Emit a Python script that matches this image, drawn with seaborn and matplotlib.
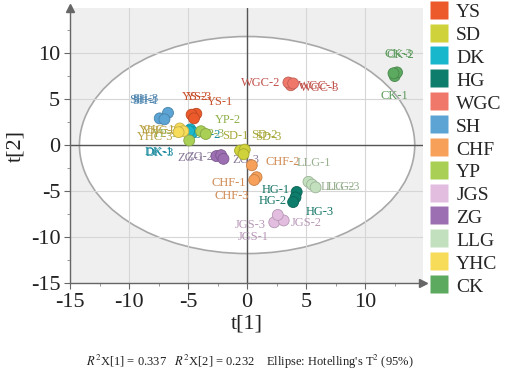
import numpy as np
import pandas as pd
import seaborn as sns
import matplotlib.pyplot as plt
from matplotlib.patches import Ellipse
from matplotlib.lines import Line2D
from matplotlib.ticker import MultipleLocator

# ==============================
# Data (PCA scores)
# ==============================
groups = ["YS", "SD", "DK", "HG", "WGC", "SH", "CHF", "YP", "JGS", "ZG", "LLG", "YHC", "CK"]
group_colors = ["#ec5a2c", "#cfd23b", "#19b7cc", "#0e7d6c", "#f0786b", "#5ba4d4", "#f6a05a",
                "#a9cf55", "#e2bde0", "#9c6fb3", "#c3e0be", "#f7dc5a", "#5ca960"]
label_colors = ["#c8502a", "#a8a83a", "#1a8a9e", "#137565", "#c0504a", "#4f86b0", "#d08850",
                "#8fb04a", "#b898b8", "#8a7a9a", "#98b090", "#b8a040", "#5a9a5a"]

t1_YS = [-4.3, -4.7, -4.5]
t2_YS = [3.4, 3.3, 2.9]
t1_SD = [-0.6, -0.2, -0.3]
t2_SD = [-0.6, -0.5, -1.0]
t1_DK = [-4.8, -4.6, -4.9]
t2_DK = [1.7, 1.4, 1.5]
t1_HG = [4.2, 4.1, 3.9]
t2_HG = [-5.1, -5.7, -6.2]
t1_WGC = [3.7, 3.5, 3.9]
t2_WGC = [6.5, 6.8, 6.7]
t1_SH = [-7.4, -6.7, -7.0]
t2_SH = [2.9, 3.5, 2.8]
t1_CHF = [0.8, 0.4, 0.6]
t2_CHF = [-3.5, -2.2, -3.8]
t1_YP = [-4.9, -3.9, -3.5]
t2_YP = [0.5, 1.5, 1.2]
t1_JGS = [2.3, 3.1, 2.6]
t2_JGS = [-8.4, -8.2, -7.6]
t1_ZG = [-2.6, -2.2, -2.0]
t2_ZG = [-1.2, -1.1, -1.5]
t1_LLG = [5.2, 5.5, 5.8]
t2_LLG = [-4.0, -4.3, -4.6]
t1_YHC = [-5.7, -5.4, -5.8]
t2_YHC = [1.8, 1.5, 1.4]
t1_CK = [12.5, 12.7, 12.4]
t2_CK = [7.5, 7.9, 7.8]

scores = {
    "YS": (t1_YS, t2_YS), "SD": (t1_SD, t2_SD), "DK": (t1_DK, t2_DK),
    "HG": (t1_HG, t2_HG), "WGC": (t1_WGC, t2_WGC), "SH": (t1_SH, t2_SH),
    "CHF": (t1_CHF, t2_CHF), "YP": (t1_YP, t2_YP), "JGS": (t1_JGS, t2_JGS),
    "ZG": (t1_ZG, t2_ZG), "LLG": (t1_LLG, t2_LLG), "YHC": (t1_YHC, t2_YHC),
    "CK": (t1_CK, t2_CK),
}

r2x = [0.337, 0.232]
ellipse_axes = [14.2, 11.8]   # Hotelling's T2 (95%) semi-axes

# label placement (pixel offsets from the point)
label_offsets = {
    "YS-1": (24, 12), "YS-2": (3, 18), "YS-3": (5, 21),
    "SD-1": (-5, 15), "SD-2": (20, 15), "SD-3": (25, 17),
    "DK-1": (-32, -23), "DK-2": (14, -3), "DK-3": (-29, -22),
    "HG-1": (-21, 2), "HG-2": (-23, -4), "HG-3": (27, -10),
    "WGC-1": (27, -1), "WGC-2": (-28, -1), "WGC-3": (27, -5),
    "SH-1": (-14, 17), "SH-2": (-26, 13), "SH-3": (-19, 20),
    "CHF-1": (-28, -6), "CHF-2": (31, 3), "CHF-3": (-22, -16),
    "YP-1": (-24, 6), "YP-2": (27, 11), "YP-3": (6, 0),
    "JGS-1": (-21, -15), "JGS-2": (23, -3), "JGS-3": (-28, -10),
    "ZG-1": (-26, -2), "ZG-2": (-21, -2), "ZG-3": (22, -1),
    "LLG-1": (5, 19), "LLG-2": (26, -2), "LLG-3": (27, 0),
    "YHC-1": (-23, -2), "YHC-2": (-23, 0), "YHC-3": (-23, -5),
    "CK-1": (0, -20), "CK-2": (3, 17), "CK-3": (5, 19),
}

rows = []
for g in groups:
    xs, ys = scores[g]
    for i, (a, b) in enumerate(zip(xs, ys)):
        rows.append({"group": g, "sample": f"{g}-{i + 1}", "t1": a, "t2": b})
df = pd.DataFrame(rows)

# ==============================
# Plot
# ==============================
sns.set_style("white")
plt.rcParams["font.family"] = ["Liberation Serif", "DejaVu Serif"]
plt.rcParams["mathtext.fontset"] = "stix"
plt.rcParams["axes.unicode_minus"] = False

fig = plt.figure(figsize=(5.05, 3.71), dpi=100)
ax = fig.add_axes([70 / 505, 1 - 283 / 371, 353 / 505, 275 / 371])
ax.set_facecolor("#efefef")

ax.add_patch(Ellipse((0, 0), 2 * ellipse_axes[0], 2 * ellipse_axes[1],
                     facecolor="white", edgecolor="#a8a8a8", lw=1.2, zorder=0.3))
ax.set_axisbelow(True)
ax.grid(True, color="#d6d6d6", lw=0.8)
ax.axhline(0, color="#555555", lw=1.0, zorder=0.6)
ax.axvline(0, color="#555555", lw=1.0, zorder=0.6)

palette = dict(zip(groups, group_colors))
sns.scatterplot(data=df, x="t1", y="t2", hue="group", hue_order=groups, palette=palette,
                s=62, linewidth=0.6, legend=False, ax=ax, zorder=3)
coll = ax.collections[-1]
fc = coll.get_facecolors()
ec = [tuple(np.clip(np.array(c[:3]) * 0.8, 0, 1)) + (1,) for c in fc]
coll.set_edgecolors(ec)

lab_col = dict(zip(groups, label_colors))
for _, r in df.iterrows():
    dx, dy = label_offsets[r["sample"]]
    ax.annotate(r["sample"], (r["t1"], r["t2"]), xytext=(dx, dy), textcoords="offset pixels",
                ha="center", va="center", fontsize=9, color=lab_col[r["group"]], zorder=2)

ax.set_xlim(-15, 14.9)
ax.set_ylim(-15, 14.9)
ax.xaxis.set_minor_locator(MultipleLocator(2.5))
ax.yaxis.set_minor_locator(MultipleLocator(2.5))
ax.set_xticks([-15, -10, -5, 0, 5, 10])
ax.set_yticks([-15, -10, -5, 0, 5, 10])
ax.tick_params(which="major", direction="out", length=4, width=0.8, color="#666666",
               labelsize=16, labelcolor="#222222", bottom=True, left=True, pad=3)
ax.tick_params(which="minor", direction="out", length=2.5, width=0.6, color="#888888",
               bottom=True, left=True)

for side in ["top", "right"]:
    ax.spines[side].set_visible(False)
for side in ["left", "bottom"]:
    ax.spines[side].set_color("#666666")
    ax.spines[side].set_linewidth(1.0)
ax.plot(1.0, 0, ">", color="#666666", ms=6, transform=ax.transAxes, clip_on=False)
ax.plot(0, 1.0, "^", color="#666666", ms=6, transform=ax.transAxes, clip_on=False)

ax.set_xlabel("t[1]", fontsize=16, color="#222222", labelpad=2)
ax.set_ylabel("t[2]", fontsize=16, color="#222222", labelpad=4)

handles = [Line2D([], [], marker="s", ls="", markersize=13, markerfacecolor=c,
                  markeredgecolor="none") for c in group_colors]
fig.legend(handles, groups, loc="upper left", bbox_to_anchor=(429 / 505, 1 - 2 / 371),
           frameon=False, fontsize=14, handlelength=1.0, handleheight=1.0,
           handletextpad=0.4, labelspacing=0.18, borderpad=0, borderaxespad=0)

fig.text(250 / 505, 1 - 362 / 371,
         rf"$R^2$X[1] = {r2x[0]:.3f}   $R^2$X[2] = {r2x[1]:.3f}    Ellipse: Hotelling's T$^2$ (95%)",
         ha="center", va="center", fontsize=9, color="#222222")

fig.savefig("out.png", dpi=100)
